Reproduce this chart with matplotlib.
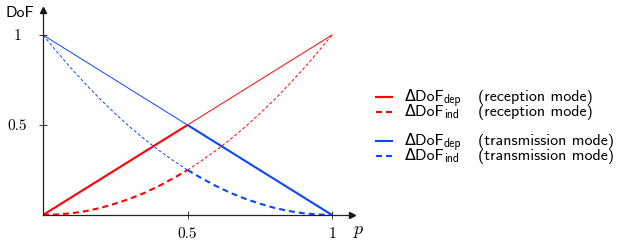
import matplotlib
matplotlib.use('Agg')
import matplotlib.pyplot as plt
from matplotlib.lines import Line2D

plt.rcParams['lines.scale_dashes'] = False
plt.rcParams['axes.unicode_minus'] = False

# datos
p_lin = [0.0, 0.5, 1.0]
rx_dep = [0.0, 0.5, 1.0]
tx_dep = [1.0, 0.5, 0.0]

p_curva = [0.0, 0.05, 0.1, 0.15, 0.2, 0.25, 0.3, 0.35, 0.4, 0.45, 0.5,
           0.55, 0.6, 0.65, 0.7, 0.75, 0.8, 0.85, 0.9, 0.95, 1.0]
rx_ind = [0.0, 0.003, 0.01, 0.022, 0.04, 0.063, 0.09, 0.122, 0.16, 0.203, 0.25,
          0.303, 0.36, 0.423, 0.49, 0.563, 0.64, 0.723, 0.81, 0.903, 1.0]
tx_ind = [1.0, 0.903, 0.81, 0.723, 0.64, 0.563, 0.49, 0.423, 0.36, 0.303, 0.25,
          0.203, 0.16, 0.122, 0.09, 0.063, 0.04, 0.022, 0.01, 0.003, 0.0]

ticks = [0.5, 1.0]
tick_labels = ['0.5', '1']

rojo = '#ff0000'
azul = '#0a46ff'
grueso, fino = 1.5, 0.7
dash_g, dash_f = (4.3, 2.9), (2.2, 1.6)
sans = ['cmss10', 'DejaVu Sans']

W, H = 623, 241
fig = plt.figure(figsize=(W / 100, H / 100), dpi=100)
x0, x1, y0, y1 = 43, 332, 215, 35
ax = fig.add_axes([x0 / W, (H - y0) / H, (352 - x0) / W, (y0 - 10) / H])
ax.set_xlim(0, (352 - x0) / (x1 - x0))
ax.set_ylim(0, (y0 - 10) / (y0 - y1))

m = p_curva.index(0.5)

# lineas rectas
ax.plot(p_lin[:2], rx_dep[:2], color=rojo, lw=grueso, solid_capstyle='butt')
ax.plot(p_lin[1:], rx_dep[1:], color=rojo, lw=fino)
ax.plot(p_lin[:2], tx_dep[:2], color=azul, lw=fino)
ax.plot(p_lin[1:], tx_dep[1:], color=azul, lw=grueso, solid_capstyle='butt')

# curvas punteadas
ax.plot(p_curva[:m + 1], rx_ind[:m + 1], color=rojo, lw=grueso, dashes=dash_g)
ax.plot(p_curva[m:], rx_ind[m:], color=rojo, lw=fino, dashes=dash_f)
ax.plot(p_curva[:m + 1], tx_ind[:m + 1], color=azul, lw=fino, dashes=dash_f)
ax.plot(p_curva[m:], tx_ind[m:], color=azul, lw=grueso, dashes=dash_g)

for s in ['top', 'right']:
    ax.spines[s].set_visible(False)
for s in ['left', 'bottom']:
    ax.spines[s].set_color('#222222')
    ax.spines[s].set_linewidth(0.9)

ax.plot(1, 0, '>', color='#111111', ms=4, transform=ax.transAxes, clip_on=False)
ax.plot(0, 1, '^', color='#111111', ms=4, transform=ax.transAxes, clip_on=False)

ax.set_xticks(ticks)
ax.set_yticks(ticks)
ax.set_xticklabels(tick_labels, family='cmr10', fontsize=11)
ax.set_yticklabels(tick_labels, family='cmr10', fontsize=11, ha='center')
ax.tick_params(direction='inout', length=6, width=0.7, color='#333333', pad=6)
ax.tick_params(axis='y', pad=15.5)

fig.text(20 / W, 1 - 13 / H, 'DoF', family='cmss10', fontsize=11.5, ha='center', va='center')
fig.text(358 / W, 1 - 229 / H, 'p', family='cmmi10', fontsize=13, ha='center', va='center')

# leyenda manual
entradas = [
    (97, rojo, None, 'dep', '(reception mode)'),
    (112, rojo, dash_g, 'ind', '(reception mode)'),
    (141, azul, None, 'dep', '(transmission mode)'),
    (156, azul, dash_g, 'ind', '(transmission mode)'),
]
renderer = fig.canvas.get_renderer()
for yy, col, dsh, sub, modo in entradas:
    yf = 1 - yy / H
    ln = Line2D([376 / W, 392 / W], [yf, yf], transform=fig.transFigure, color=col, lw=grueso)
    if dsh:
        ln.set_dashes(dsh)
    fig.add_artist(ln)
    base = yf - 4 / H
    t = fig.text(405 / W, base, '\u0394DoF', family=sans, fontsize=11.5, va='baseline')
    ancho = t.get_window_extent(renderer).x1
    fig.text((ancho - 1) / W, base - 2.5 / H, sub, family='cmss10', fontsize=8.5, va='baseline')
    fig.text(478 / W, base, modo, family='cmss10', fontsize=11.5, va='baseline')

fig.savefig('out.png', dpi=100)
